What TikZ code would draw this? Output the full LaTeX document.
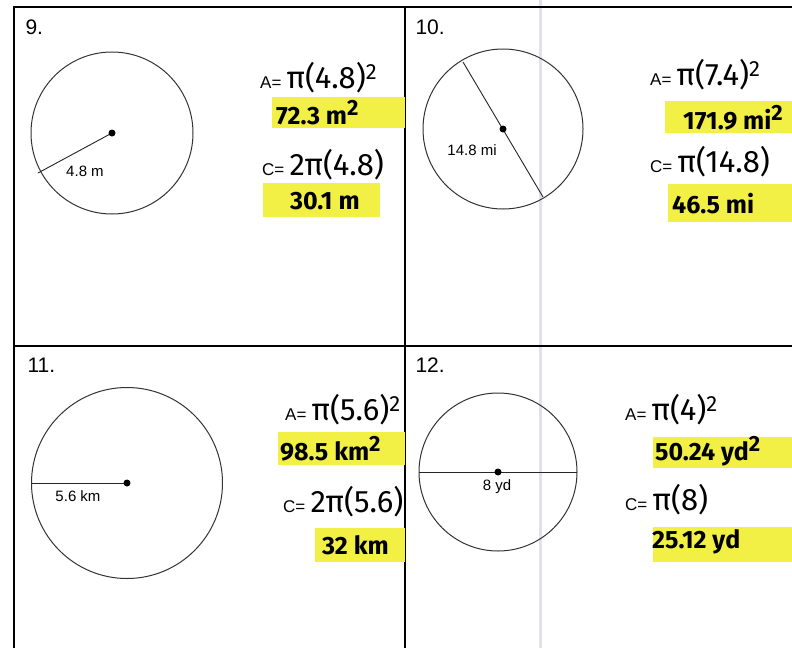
\documentclass[tikz,border=0pt]{standalone}
\usepackage{fontspec}
\setmainfont{Liberation Sans}
\newfontfamily\handfont{Fira Sans}
\definecolor{hilite}{HTML}{F2EF45}
\definecolor{faint}{HTML}{E2E0EA}
\tikzset{
  numlbl/.style={anchor=west,font=\fontsize{21}{21}\selectfont},
  dimlbl/.style={font=\fontsize{15}{15}\selectfont},
  work/.style={anchor=west,inner sep=0pt,font=\handfont\fontsize{31}{31}\selectfont},
  answer/.style={anchor=west,inner sep=0pt,font=\handfont\bfseries\fontsize{25}{25}\selectfont},
  hl/.style={fill=hilite,draw=none},
  rim/.style={line width=1pt,black!80},
  chord/.style={line width=0.9pt,black!85}
}
\newcommand{\Apre}{{\rmfamily\fontsize{17}{17}\selectfont A=}\,}
\newcommand{\Cpre}{{\rmfamily\fontsize{17}{17}\selectfont C=}\,}
\newcommand{\sq}{\textsuperscript{\fontsize{22}{22}\selectfont 2}}

\begin{document}
\begin{tikzpicture}[x=1pt,y=-1pt]
      \useasboundingbox (0,0) rectangle (792,648);
      \clip (0,0) rectangle (792,648);
      \fill[white] (0,0) rectangle (792,648);
      \draw[faint,line width=3pt] (540,0) -- (540,648);
      \draw[line width=1.2pt] (14,648) -- (14,7) -- (792,7);
      \draw[line width=1.2pt] (405,7) -- (405,648);
      \draw[line width=1.2pt] (14,346) -- (792,346);

      \fill[hl] (272,97) rectangle (405,128);
      \fill[hl] (263,183) rectangle (380,217);
      \fill[hl] (665,101) rectangle (792,133);
      \fill[hl] (668,184) rectangle (792,222);
      \fill[hl] (278,432) rectangle (405,465);
      \fill[hl] (315,528) rectangle (405,562);
      \fill[hl] (653,437) rectangle (792,468);
      \fill[hl] (653,527) rectangle (792,562);

      \node[numlbl] (n9) at (22,27) {9.};
      \coordinate (c9) at (112,133);
      \draw[rim] (c9) circle (81);
      \coordinate (r9) at (38,173);
      \draw[chord] (c9) -- (r9);
      \fill (c9) circle (3.5);
      \node[dimlbl] (d9) at (85,171) {4.8 m};
      \node[work] (a9) at (260,78) {\Apre π(4.8)\sq};
      \node[answer] (aa9) at (276,113) {72.3 m\sq};
      \node[work] (w9) at (262,165) {\Cpre 2π(4.8)};
      \node[answer] (ac9) at (290,201) {30.1 m};

      \node[numlbl] (n10) at (412,27) {10.};
      \coordinate (c10) at (503,129);
      \draw[rim] (c10) circle (80);
      \coordinate (p10) at (463,62);
      \coordinate (q10) at (543,197);
      \draw[chord] (p10) -- (q10);
      \fill (c10) circle (3.5);
      \node[dimlbl] (d10) at (472,150) {14.8 mi};
      \node[work] (a10) at (650,75) {\Apre π(7.4)\sq};
      \node[answer] (aa10) at (683,118) {171.9 mi\sq};
      \node[work] (w10) at (650,162) {\Cpre π(14.8)};
      \node[answer] (ac10) at (672,204) {46.5 mi};

      \node[numlbl] (n11) at (24,365) {11.};
      \coordinate (c11) at (127,483);
      \draw[rim] (c11) circle (95.5);
      \coordinate (r11) at (31.5,483);
      \draw[chord] (c11) -- (r11);
      \fill (c11) circle (3.5);
      \node[dimlbl] (d11) at (78,496) {5.6 km};
      \node[work] (a11) at (285,410) {\Apre π(5.6)\sq};
      \node[answer] (aa11) at (280,449) {98.5 km\sq};
      \node[work] (w11) at (283,502) {\Cpre 2π(5.6)};
      \node[answer] (ac11) at (322,545) {32 km};

      \node[numlbl] (n12) at (412,365) {12.};
      \coordinate (c12) at (498,472);
      \draw[rim] (c12) circle (79);
      \coordinate (p12) at (419,472);
      \coordinate (q12) at (577,472);
      \draw[chord] (p12) -- (q12);
      \fill (c12) circle (3.5);
      \node[dimlbl] (d12) at (497,487) {8 yd};
      \node[work] (a12) at (625,410) {\Apre π(4)\sq};
      \node[answer] (aa12) at (655,451) {50.24 yd\sq};
      \node[work] (w12) at (625,500) {\Cpre π(8)};
      \node[answer] (ac12) at (652,542) {25.12 yd};
    \end{tikzpicture}
\end{document}
